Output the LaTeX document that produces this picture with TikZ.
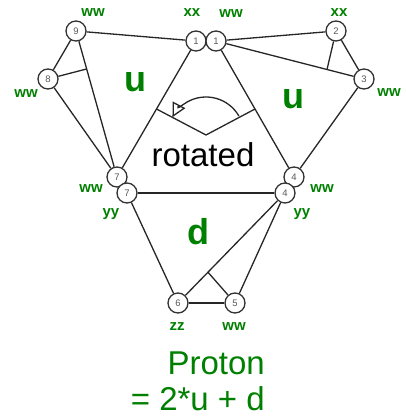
\documentclass[tikz,border=0pt]{standalone}
\usepackage{fontspec}
\setmainfont{Liberation Sans}
\usetikzlibrary{arrows.meta,calc}
\definecolor{lblgreen}{RGB}{0,128,0}
\definecolor{circgray}{RGB}{50,50,50}
\begin{document}
\begin{tikzpicture}[x=1pt,y=-1pt,
  vtx/.style={circle,draw=circgray,line width=1.3pt,fill=white,minimum size=20pt,inner sep=0pt,
    font=\fontsize{9.5}{9.5}\selectfont,text=black!65},
  edge/.style={line width=1.3pt,draw=black!85},
  tag/.style={text=lblgreen,font=\fontsize{15}{15}\selectfont\bfseries,inner sep=0pt},
  big/.style={text=lblgreen,font=\fontsize{36}{36}\selectfont\bfseries,inner sep=0pt},
  caption/.style={text=lblgreen,font=\fontsize{33}{33}\selectfont,inner sep=0pt,anchor=base east},
]
\useasboundingbox (0,0) rectangle (405,418);

% vertices
\node[vtx] (n9) at (76,31) {9};
\node[vtx] (n8) at (48,79) {8};
\node[vtx] (n1a) at (196,41) {1};
\node[vtx] (n1b) at (216,41) {1};
\node[vtx] (n2) at (336,31) {2};
\node[vtx] (n3) at (364,79) {3};
\node[vtx] (n7a) at (117,177) {7};
\node[vtx] (n7b) at (127,193) {7};
\node[vtx] (n4a) at (294,177) {4};
\node[vtx] (n4b) at (285,193) {4};
\node[vtx] (n6) at (178,303) {6};
\node[vtx] (n5) at (235,303) {5};

% helper points on edges
\coordinate (m97) at ($(n9)!0.26!(n7a)$);
\coordinate (m13) at ($(n1b)!0.75!(n3)$);
\coordinate (m46) at ($(n4b)!0.72!(n6)$);
\coordinate (aL) at ($(n1a)!0.5!(n7a)$);
\coordinate (aR) at ($(n1b)!0.5!(n4a)$);
\coordinate (aV) at (206,135);

% edges
\draw[edge] (n9) -- (n1a);
\draw[edge] (n9) -- (n8);
\draw[edge] (n9) -- (n7a);
\draw[edge] (n8) -- (n7a);
\draw[edge] (n8) -- (m97);
\draw[edge] (n1a) -- (n7a);
\draw[edge] (n1b) -- (n2);
\draw[edge] (n1b) -- (n3);
\draw[edge] (n2) -- (n3);
\draw[edge] (n2) -- (m13);
\draw[edge] (n1b) -- (n4a);
\draw[edge] (n3) -- (n4a);
\draw[edge] (n7b) -- (n4b);
\draw[edge] (n7b) -- (n6);
\draw[edge] (n4b) -- (n6);
\draw[edge] (n4b) -- (n5);
\draw[edge] (n6) -- (n5);
\draw[edge] (n5) -- (m46);

% rotation mark
\draw[edge] (aL) -- (aV) -- (aR);
\draw[edge,-{Triangle[open,length=14pt,width=14pt]}] (aV) ++(-30:38) arc[start angle=-30,end angle=-152,radius=38];

% labels
\node[tag] (t9) at (93,13) {ww};
\node[tag] (t8) at (26,94) {ww};
\node[tag] (t1a) at (192,13) {xx};
\node[tag] (t1b) at (231,14) {ww};
\node[tag] (t2) at (339,13) {xx};
\node[tag] (t3) at (389,93) {ww};
\node[tag] (t7a) at (91,189) {ww};
\node[tag] (t7b) at (111,214) {yy};
\node[tag] (t4a) at (322,189) {ww};
\node[tag] (t4b) at (302,214) {yy};
\node[tag] (t6) at (177,327) {zz};
\node[tag] (t5) at (234,327) {ww};

\node[big] (uL) at (135,82) {u};
\node[big] (uR) at (293,99) {u};
\node[big] (dd) at (198,232) {d};
\node[inner sep=0pt,anchor=base,font=\fontsize{33}{33}\selectfont] (rot) at (203,166) {rotated};

\node[caption] (cap1) at (265,374) {Proton};
\node[caption] (cap2) at (265,410) {= 2*u + d};
\end{tikzpicture}
\end{document}
